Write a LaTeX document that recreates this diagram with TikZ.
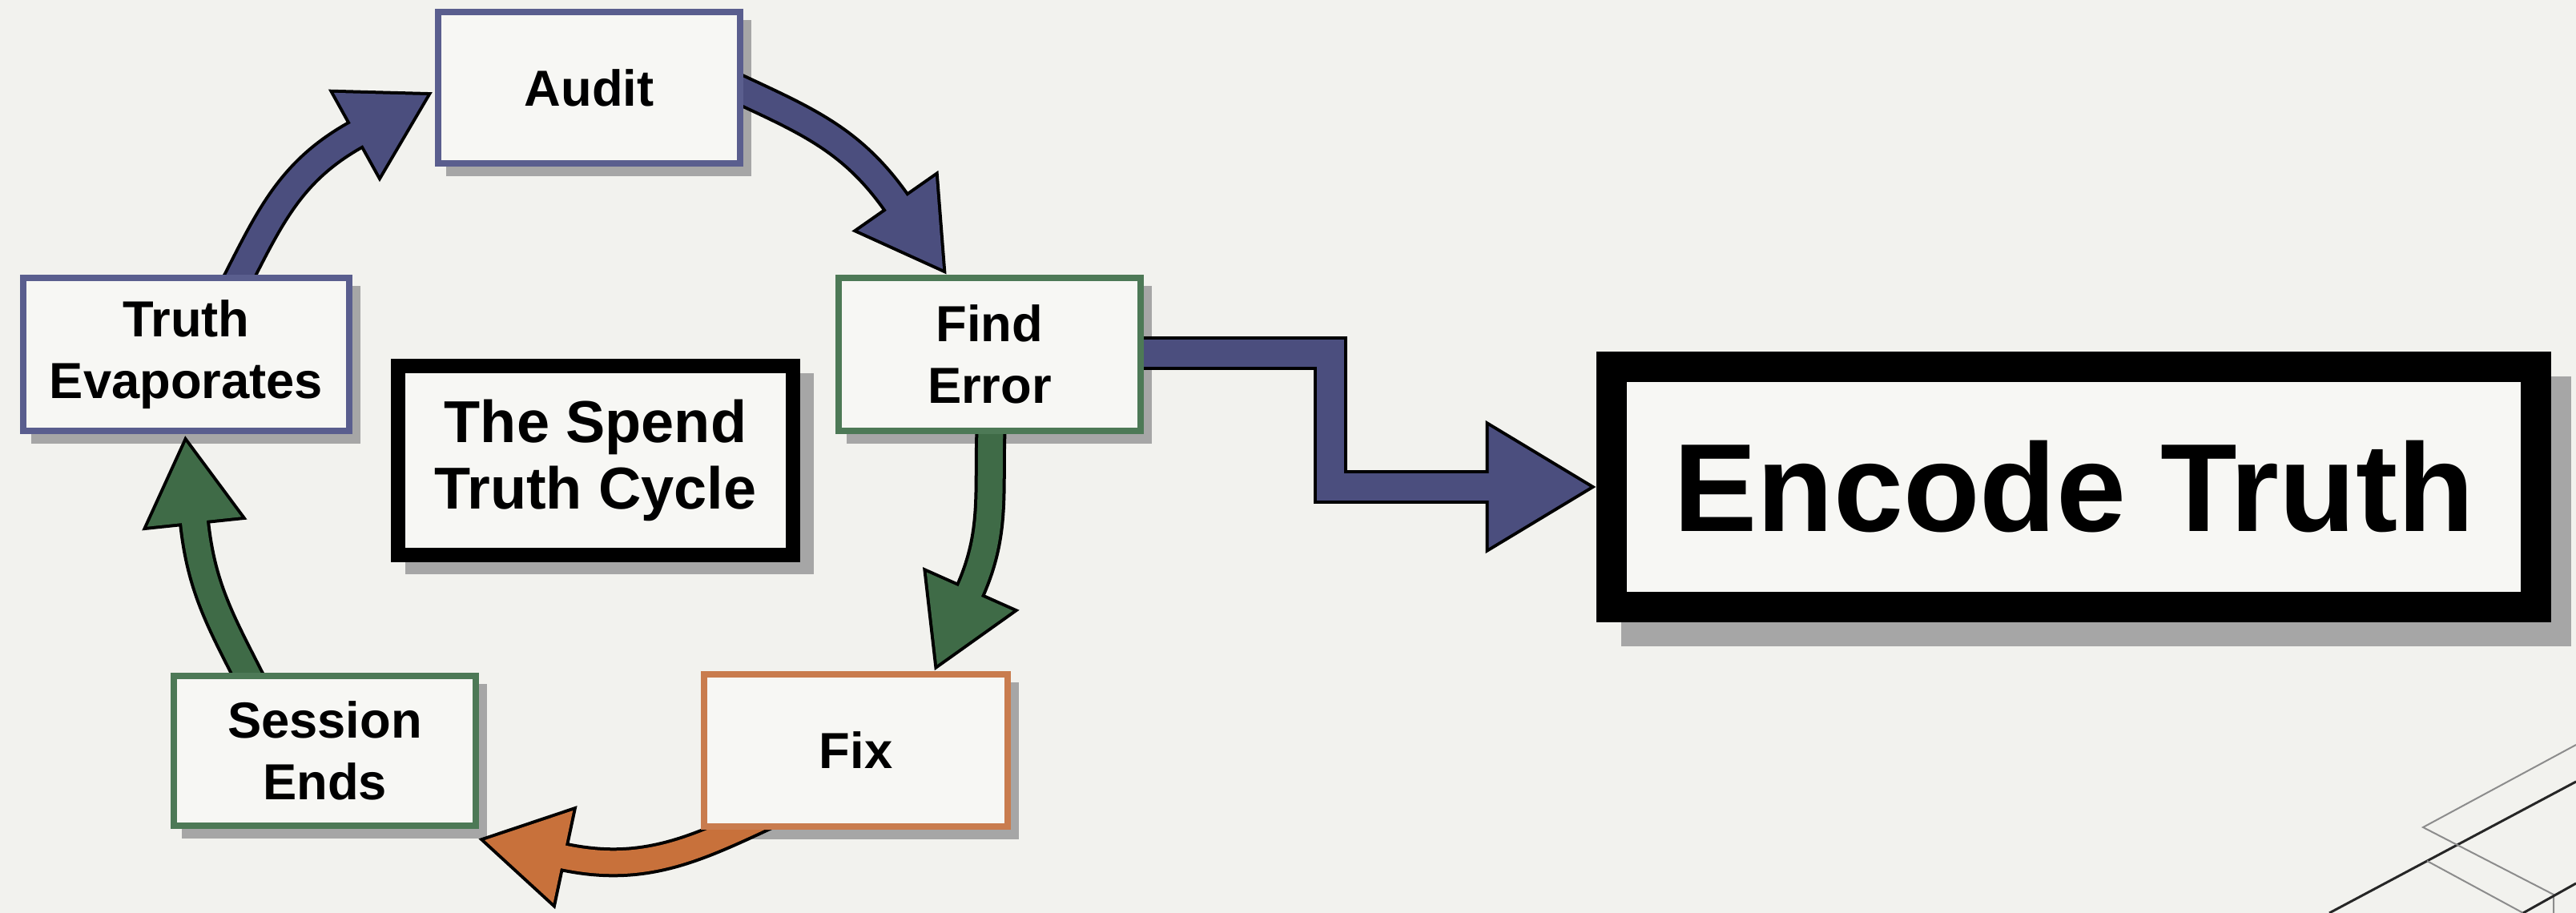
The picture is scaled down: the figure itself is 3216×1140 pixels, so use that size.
\documentclass[tikz,border=0pt]{standalone}
\usepackage{fontspec}
\setmainfont{Liberation Sans}
\usetikzlibrary{calc}
\pgfdeclarelayer{shadowlayer}
\pgfdeclarelayer{arrowlayer}
\pgfsetlayers{shadowlayer,arrowlayer,main}
\definecolor{bg}{HTML}{F2F2EE}
\definecolor{boxfill}{HTML}{F7F7F4}
\definecolor{navyA}{HTML}{4B4E7E}
\definecolor{navyB}{HTML}{5A5E8E}
\definecolor{greenA}{HTML}{3F6B47}
\definecolor{greenB}{HTML}{4D7956}
\definecolor{orangeA}{HTML}{C8713B}
\definecolor{orangeB}{HTML}{C97C4E}
\definecolor{shade}{HTML}{A6A6A6}
\definecolor{decog}{HTML}{8C8C8C}
% #1 colour, #2 start coord, #3 out angle, #4 tip coord, #5 head angle, #6 head length, #7 head width, #8 shaft width
\newcommand\blockarrow[8]{%
  \pgfmathsetmacro\inang{#5+180}%
  \path ($(#4)+({#5+180}:{#6})$) coordinate (ba)
        (#4) coordinate (ta)
        ($(ba)+({#5+90}:{#7/2})$) coordinate (pa)
        ($(ba)+({#5-90}:{#7/2})$) coordinate (pb)
        ($(#2)+({#3+180}:15)$) coordinate (sa)
        ($(ba)+({#5}:6)$) coordinate (be);
  \draw[black, line width=#8+0.08cm] (sa) -- (#2) to[out=#3,in=\inang] (ba) -- (be);
  \filldraw[black, line width=0.08cm, line join=miter] (pa) -- (ta) -- (pb) -- cycle;
  \draw[#1, line width=#8] (sa) -- (#2) to[out=#3,in=\inang] (ba) -- (be);
  \fill[#1] (pa) -- (ta) -- (pb) -- cycle;
}
\begin{document}
\begin{tikzpicture}[x=0.01cm, y=0.01cm,
  box/.style={draw=#1, fill=boxfill, line width=0.08cm, inner sep=0pt, outer sep=0pt,
    align=center, text=black, font=\fontsize{18}{22}\selectfont\bfseries},
  shadowfill/.style={fill=shade},
  decothin/.style={draw=decog, line width=0.02cm},
  decothick/.style={draw=black!85, line width=0.03cm}]
\useasboundingbox (0,0) rectangle (3216,1140);

% boxes
\node[box=navyB, minimum width=3.77cm, minimum height=1.89cm] (audit) at (735.5,1030.5) {Audit};
\node[box=navyB, minimum width=4.07cm, minimum height=1.91cm] (te) at (232.5,697.5) {Truth\\Evaporates};
\node[box=greenB, minimum width=3.77cm, minimum height=1.91cm] (fe) at (1235.5,697.5) {Find\\Error};
\node[box=greenB, minimum width=3.77cm, minimum height=1.87cm] (se) at (405.5,202.5) {Session\\Ends};
\node[box=orangeB, minimum width=3.79cm, minimum height=1.90cm] (fix) at (1068.5,203) {Fix};
\node[box=black, line width=0.18cm, minimum width=4.93cm, minimum height=2.36cm,
  font=\fontsize{21}{23.5}\selectfont\bfseries] (title) at (743.5,565) {The Spend\\Truth Cycle};
\node[box=black, line width=0.38cm, minimum width=11.54cm, minimum height=3.00cm,
  font=\fontsize{44.5}{50}\selectfont\bfseries] (et) at (2589,532) {Encode Truth};

\begin{pgfonlayer}{shadowlayer}
  \fill[bg] (0,0) rectangle (3216,1140);
  \foreach \n in {audit,te,fe,se,fix}
    \fill[shadowfill] ($(\n.south west)+(10,-16)$) rectangle ($(\n.north east)+(14,-10)$);
  \fill[shadowfill] ($(title.south west)+(9,-24)$) rectangle ($(title.north east)+(26,-9)$);
  \fill[shadowfill] ($(et.south west)+(12,-49)$) rectangle ($(et.north east)+(44,-12)$);
  % decorative lines
  \draw[decothick] (2908,0) -- (3216,164);
  \draw[decothin] (3216,210) -- (3025,107) -- (3188,23) -- (3188,0);
  \draw[decothin] (3030,65) -- (3150,0);
  \draw[decothick] (3150,0) -- (3216,37);
\end{pgfonlayer}

\begin{pgfonlayer}{arrowlayer}
  \coordinate (a1s) at ($(te.north)+(65.5,0)$);
  \coordinate (a1t) at ($(audit.west)+(-14,-9.5)$);
  \coordinate (a2s) at ($(audit.east)+(0,-2.5)$);
  \coordinate (a2t) at ($(fe.north)+(-58.5,11)$);
  \coordinate (a3s) at ($(fe.south)+(1.5,0)$);
  \coordinate (a3t) at ($(fix.north)+(101.5,12)$);
  \coordinate (a4s) at ($(fix.south)+(-103.5,17)$);
  \coordinate (a4t) at ($(se.south east)+(11,-18)$);
  \coordinate (a5s) at ($(se.north)+(-95.5,0)$);
  \coordinate (a5t) at ($(te.south)+(-0.5,-14)$);
  \blockarrow{navyA}{a1s}{63}{a1t}{29}{100}{118}{0.31cm}
  \blockarrow{navyA}{a2s}{-25}{a2t}{-55}{100}{118}{0.31cm}
  \blockarrow{greenA}{a3s}{-92}{a3t}{-114}{100}{118}{0.31cm}
  \blockarrow{orangeA}{a4s}{205}{a4t}{168}{100}{118}{0.29cm}
  \blockarrow{greenA}{a5s}{117}{a5t}{96}{100}{118}{0.31cm}
  % elbow arrow to Encode Truth
  \coordinate (e0) at ($(fe.east)+(-15,1.5)$);
  \coordinate (e1) at ($(fe.east)+(237,1.5)$);
  \coordinate (etip) at ($(et.west)+(-27,0)$);
  \coordinate (ebase) at ($(etip)+(-126,0)$);
  \coordinate (eend) at ($(ebase)+(6,0)$);
  \draw[black, line width=0.42cm, line join=miter] (e0) -- (e1) |- (eend);
  \filldraw[black, line width=0.08cm, line join=miter] ($(ebase)+(0,76)$) -- (etip) -- ($(ebase)+(0,-76)$) -- cycle;
  \draw[navyA, line width=0.34cm, line join=miter] (e0) -- (e1) |- (eend);
  \fill[navyA] ($(ebase)+(0,76)$) -- (etip) -- ($(ebase)+(0,-76)$) -- cycle;
\end{pgfonlayer}
\end{tikzpicture}
\end{document}
